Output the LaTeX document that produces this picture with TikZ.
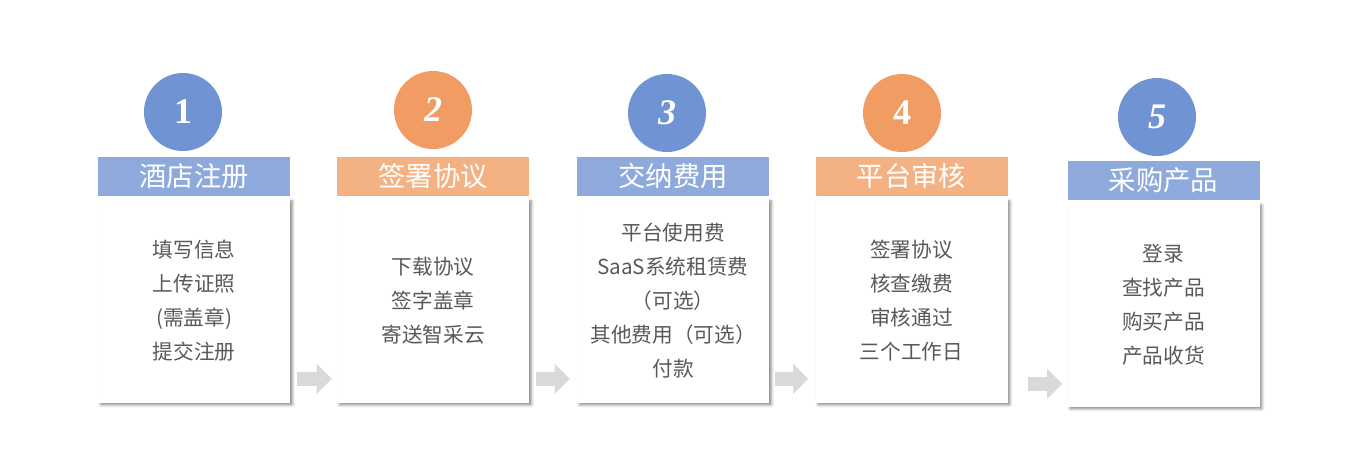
\documentclass[tikz,border=0pt]{standalone}
\usepackage{fontspec}
\newfontfamily\cjk{Noto Sans CJK SC}
\newfontfamily\numfont{Liberation Serif}
\usepackage{tikz}
\usetikzlibrary{arrows.meta,positioning,shadows.blur}
\definecolor{stepblue}{HTML}{6F93D3}
\definecolor{headblue}{HTML}{8EAADC}
\definecolor{steporange}{HTML}{F09C63}
\definecolor{headorange}{HTML}{F4B183}
\definecolor{textgray}{HTML}{595959}
\definecolor{arrowgray}{HTML}{D9D9D9}

\begin{document}
\begin{tikzpicture}[x=0.75pt,y=-0.75pt]
				\useasboundingbox (0,0) rectangle (1345,462);
				\begin{scope}[every node/.style={circle,minimum size=58.5pt,inner sep=0pt,
								text=white,font=\numfont\fontsize{27}{27}\selectfont\bfseries}]
						\node[fill=stepblue] (C1) at (183,112) {1};
						\node[fill=steporange] (C2) at (433,110) {\itshape 2};
						\node[fill=stepblue] (C3) at (667,113) {\itshape 3};
						\node[fill=steporange] (C4) at (902,113) {4};
						\node[fill=stepblue] (C5) at (1157,117) {\itshape 5};
				\end{scope}
				\begin{scope}[every node/.style={rectangle,minimum width=144pt,minimum height=29.25pt,
								inner sep=0pt,text=white,font=\cjk\fontsize{20.5}{24}\selectfont}]
						\node[fill=headblue] (H1) at (194,176.5) {酒店注册};
						\node[fill=headorange] (H2) at (433,176.5) {签署协议};
						\node[fill=headblue] (H3) at (673,176.5) {交纳费用};
						\node[fill=headorange] (H4) at (911.5,176.5) {平台审核};
						\node[fill=headblue] (H5) at (1163.5,180.5) {采购产品};
				\end{scope}
				\begin{scope}[every node/.style={rectangle,fill=white,minimum width=144pt,minimum height=153pt,
								inner sep=0pt,align=center,text=textgray,font=\cjk\fontsize{15.5}{25.5}\selectfont,
								blur shadow={shadow xshift=1.8pt,shadow yshift=-1.8pt,shadow blur radius=2pt,shadow opacity=45}}]
						\node[below=1.5pt of H1] (B1) {填写信息\\上传证照\\(需盖章)\\提交注册};
						\node[below=1.5pt of H2] (B2) {下载协议\\签字盖章\\寄送智采云};
						\node[below=1.5pt of H3] (B3) {平台使用费\\SaaS系统租赁费\\（可选）\\其他费用（可选）\\付款};
						\node[below=1.5pt of H4] (B4) {签署协议\\核查缴费\\审核通过\\三个工作日};
						\node[below=1.5pt of H5] (B5) {登录\\查找产品\\购买产品\\产品收货};
				\end{scope}
				\begin{scope}[every path/.style={draw=arrowgray,line width=10.5pt,
								-{Triangle[length=11.25pt,width=21.75pt]}}]
						\path[shorten <=5.25pt,shorten >=3.75pt] ([yshift=18pt]B1.south east) -- ([yshift=18pt]B2.south west);
						\path[shorten <=5.25pt,shorten >=5.25pt] ([yshift=18pt]B2.south east) -- ([yshift=18pt]B3.south west);
						\path[shorten <=4.5pt,shorten >=5.25pt] ([yshift=18pt]B3.south east) -- ([yshift=18pt]B4.south west);
						\path[shorten <=15pt,shorten >=3.75pt] ([yshift=17.25pt]B5.south west -| B4.east) -- ([yshift=17.25pt]B5.south west);
				\end{scope}
\end{tikzpicture}
\end{document}
